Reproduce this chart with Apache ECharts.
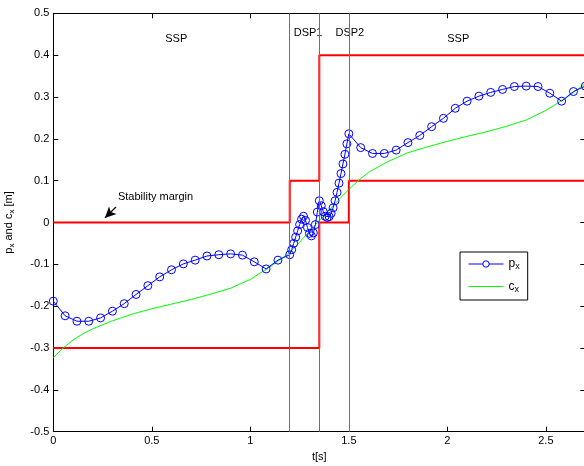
<!DOCTYPE html>
<html><head><meta charset="utf-8">
<script src="https://cdn.jsdelivr.net/npm/echarts@6/dist/echarts.min.js"></script>
<style>html,body{margin:0;padding:0;background:#fff}#c{width:584px;height:466px}</style>
</head><body><div id="c"></div>
<script>
// ZMP p_x (blue, circles)
const pxT = [0,0.06,0.12,0.18,0.24,0.30,0.36,0.42,0.48,0.54,0.60,0.66,0.72,0.78,0.84,0.90,0.96,1.02,1.08,1.14,1.20,
  1.21,1.22,1.23,1.24,1.25,1.26,1.27,1.28,1.29,1.30,1.31,1.32,1.33,1.34,1.35,1.36,1.37,1.38,1.39,1.40,
  1.41,1.42,1.43,1.44,1.45,1.46,1.47,1.48,1.49,1.50,
  1.56,1.62,1.68,1.74,1.80,1.86,1.92,1.98,2.04,2.10,2.16,2.22,2.28,2.34,2.40,2.46,2.52,2.58,2.64,2.70];
const pxV = [-0.188,-0.223,-0.236,-0.236,-0.228,-0.212,-0.194,-0.172,-0.151,-0.130,-0.113,-0.099,-0.090,-0.080,-0.077,-0.075,-0.078,-0.094,-0.111,-0.090,-0.077,
  -0.065,-0.050,-0.035,-0.020,-0.005,0.008,0.015,0.005,-0.012,-0.026,-0.032,-0.025,-0.005,0.025,0.052,0.040,0.026,0.015,0.012,0.014,
  0.022,0.035,0.052,0.072,0.094,0.117,0.140,0.163,0.188,0.212,
  0.179,0.165,0.165,0.173,0.191,0.208,0.229,0.249,0.273,0.290,0.302,0.311,0.318,0.325,0.326,0.325,0.309,0.290,0.313,0.326];
// CoM c_x (green)
const cxT = [0,0.05,0.1,0.15,0.2,0.3,0.4,0.5,0.6,0.7,0.8,0.9,1.0,1.1,1.2,1.25,1.3,1.35,1.4,1.45,1.5,1.55,1.6,1.7,1.8,1.9,2.0,2.1,2.2,2.3,2.4,2.5,2.6,2.7];
const cxV = [-0.323,-0.300,-0.281,-0.266,-0.254,-0.235,-0.219,-0.206,-0.195,-0.184,-0.171,-0.157,-0.136,-0.106,-0.072,-0.047,-0.021,0.005,0.030,0.055,0.079,0.101,0.120,0.146,0.167,0.181,0.194,0.206,0.217,0.230,0.245,0.268,0.297,0.332];
// stability margins (red)
const upperT = [0,1.2,1.2,1.35,1.35,2.7];
const upperV = [0,0,0.1,0.1,0.4,0.4];
const lowerT = [0,1.35,1.35,1.5,1.5,2.7];
const lowerV = [-0.3,-0.3,0,0,0.1,0.1];
// phase boundaries
const phaseBounds = [1.2,1.35,1.5];
const phaseLabelT = [0.624,1.293,1.505,2.055];
const phaseLabelV = [0.438,0.453,0.453,0.438];
const phaseLabelText = ['SSP','DSP1','DSP2','SSP'];
const marginNoteT = 0.519, marginNoteV = 0.062, marginNoteText = 'Stability margin';
const arrowFrom = [0.318,0.037], arrowTo = [0.262,0.011];
const xTicks = [0,0.5,1,1.5,2,2.5];
const yTicks = [-0.5,-0.4,-0.3,-0.2,-0.1,0,0.1,0.2,0.3,0.4,0.5];

const zip = (a,b) => a.map((v,i)=>[v,b[i]]);
const FONT = 'Liberation Sans, Arial, sans-serif';
const fmt = v => { const r = +(+v).toFixed(2); return r === 0 ? '0' : String(r); };

const chart = echarts.init(document.getElementById('c'));
const baseX = {type:'value', min:0, max:2.7, interval:0.5,
  axisLine:{show:true, onZero:false, lineStyle:{color:'#000', width:1}},
  axisTick:{show:true, inside:true, length:5, lineStyle:{color:'#000'}},
  splitLine:{show:false}};
const baseY = {type:'value', min:-0.5, max:0.5, interval:0.1,
  axisLine:{show:true, onZero:false, lineStyle:{color:'#000', width:1}},
  axisTick:{show:true, inside:true, length:5, lineStyle:{color:'#000'}},
  splitLine:{show:false}};

chart.setOption({
  animation:false,
  backgroundColor:'#fff',
  grid:{left:53.3, top:13.3, width:532, height:418.4, containLabel:false, outerBoundsMode:'none'},
  xAxis:[
    Object.assign({}, baseX, {position:'bottom', name:'t[s]', nameLocation:'middle', nameGap:17,
      nameTextStyle:{fontFamily:FONT, fontSize:11, color:'#000'},
      axisLabel:{show:true, margin:4, color:'#000', fontFamily:FONT, fontSize:11,
        formatter: v => xTicks.some(t=>Math.abs(t-v)<1e-6) ? fmt(v) : ''}}),
    Object.assign({}, baseX, {position:'top', axisLabel:{show:false}})
  ],
  yAxis:[
    Object.assign({}, baseY, {position:'left', name:'{n|p}{s|x}{n| and c}{s|x}{n| [m]}',
      nameLocation:'middle', nameGap:38, nameRotate:90,
      nameTextStyle:{fontFamily:FONT, fontSize:11, color:'#000',
        rich:{n:{fontFamily:FONT, fontSize:11, color:'#000'}, s:{fontFamily:FONT, fontSize:8, color:'#000', padding:[5,0,0,0]}}},
      axisLabel:{show:true, margin:4, color:'#000', fontFamily:FONT, fontSize:11,
        formatter: v => yTicks.some(t=>Math.abs(t-v)<1e-6) ? fmt(v) : ''}}),
    Object.assign({}, baseY, {position:'right', axisLabel:{show:false}})
  ],
  legend:{data:[{name:'px', itemStyle:{color:'#fff', borderColor:'#0000ff', borderWidth:1}},{name:'cx', itemStyle:{opacity:0}}],
    orient:'vertical', left:460, top:252, itemWidth:35, itemHeight:8, itemGap:9,
    padding:[6,8,6,8], borderColor:'#000', borderWidth:1, borderRadius:0, backgroundColor:'#fff',
    lineStyle:{width:1},
    formatter: n => n==='px' ? '{n|p}{s|x}' : '{n|c}{s|x}',
    textStyle:{fontFamily:FONT, color:'#000', rich:{n:{fontFamily:FONT, fontSize:12, color:'#000'}, s:{fontFamily:FONT, fontSize:9, color:'#000', padding:[6,0,0,0]}}}},
  series:[
    {name:'bounds', type:'line', data:[], silent:true,
      markLine:{silent:true, symbol:'none', label:{show:false}, animation:false,
        lineStyle:{color:'#707070', width:1, type:'solid'},
        data: phaseBounds.map(t=>({xAxis:t}))}},
    {name:'upper', type:'line', data:zip(upperT,upperV), showSymbol:false, symbol:'none', silent:true,
      lineStyle:{color:'#ff0000', width:2}},
    {name:'lower', type:'line', data:zip(lowerT,lowerV), showSymbol:false, symbol:'none', silent:true,
      lineStyle:{color:'#ff0000', width:2}},
    {name:'cx', type:'line', data:zip(cxT,cxV), showSymbol:false, symbol:'none', silent:true,
      itemStyle:{color:'#00ff00'}, lineStyle:{color:'#00ff00', width:1}},
    {name:'px', type:'line', data:zip(pxT,pxV), symbol:'circle', symbolSize:8, showSymbol:true, silent:true,
      itemStyle:{color:'rgba(255,255,255,0)', borderColor:'#0000ff', borderWidth:1},
      lineStyle:{color:'#0000ff', width:1}},
    {name:'notes', type:'scatter', symbolSize:0, silent:true, itemStyle:{opacity:1},
      data: phaseLabelT.map((t,i)=>({value:[t,phaseLabelV[i]], name:phaseLabelText[i]}))
        .concat([{value:[marginNoteT,marginNoteV], name:marginNoteText}]),
      label:{show:true, position:'inside', formatter:'{b}', color:'#000', opacity:1, textBorderWidth:0, fontFamily:FONT, fontSize:11},
      markLine:{silent:true, animation:false, label:{show:false}, symbol:['none','arrow'], symbolSize:[8,11],
        lineStyle:{color:'#000', width:1.2, type:'solid', opacity:1},
        data:[[{coord:arrowFrom},{coord:arrowTo}]]}}
  ]
});
</script></body></html>
